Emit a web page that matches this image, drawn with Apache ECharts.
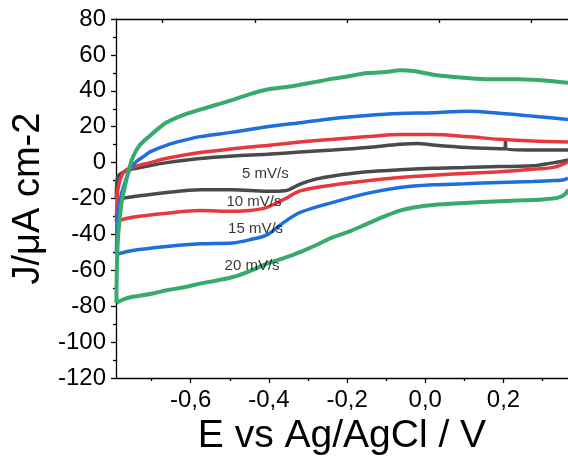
<!DOCTYPE html>
<html>
<head>
<meta charset="utf-8">
<script src="https://cdn.jsdelivr.net/npm/echarts@6.0.0/dist/echarts.min.js"></script>
<style>
  html, body { margin: 0; padding: 0; background: #fff; }
  #chart { width: 568px; height: 461px; }
</style>
</head>
<body>
<div id="chart"></div>
<script>
// potential window (V vs Ag/AgCl)
const xMin = -0.791;
const xMax = 0.365;
const xMajor = [-0.6, -0.4, -0.2, 0, 0.2];
const xMinor = [-0.7, -0.5, -0.3, -0.1, 0.1, 0.3];
const xTop = [-0.672, -0.435, -0.199, 0.036, 0.272];

// 5 mV/s
const fwd5 = [[-0.790,-20],[-0.789,-11],[-0.785,-7.4],[-0.772,-5.2],[-0.748,-3.5],[-0.704,-1.6],[-0.661,0],[-0.576,2.3],[-0.492,3.7],[-0.405,4.7],[-0.32,5.9],[-0.236,7],[-0.149,8.4],[-0.065,10.2],[-0.02,10.7],[0.02,9.8],[0.107,8.4],[0.191,7.8],[0.204,7.8],[0.205,12],[0.206,7.8],[0.275,7],[0.365,7]];
const rev5 = [[0.365,1.5],[0.33,0],[0.3,-1],[0.275,-1.8],[0.191,-2.2],[0.1,-2.7],[0.02,-3.1],[-0.065,-4],[-0.149,-5.1],[-0.236,-7.4],[-0.28,-9.2],[-0.32,-12],[-0.345,-14.7],[-0.36,-15.7],[-0.405,-16],[-0.492,-15.1],[-0.576,-15.1],[-0.661,-16.6],[-0.748,-19],[-0.790,-20.3]];
// 10 mV/s
const fwd10 = [[-0.790,-33],[-0.789,-24],[-0.786,-14.7],[-0.777,-7.4],[-0.764,-3.9],[-0.748,-2.5],[-0.73,-1.4],[-0.704,0],[-0.661,2.4],[-0.576,5.6],[-0.492,7.8],[-0.405,9.6],[-0.32,11.5],[-0.236,13],[-0.149,14.5],[-0.065,15.7],[0.02,15.7],[0.107,14.5],[0.19,13],[0.275,12],[0.365,11.5]];
const rev10 = [[0.365,0.5],[0.33,-2.5],[0.275,-3.7],[0.191,-5.1],[0.1,-6],[0.02,-7],[-0.065,-8.3],[-0.149,-10.1],[-0.236,-12.5],[-0.32,-15.7],[-0.36,-20.3],[-0.405,-24.9],[-0.449,-26.7],[-0.492,-27.1],[-0.576,-26.7],[-0.661,-28.2],[-0.748,-30.4],[-0.790,-32.5]];
// 15 mV/s
const fwd15 = [[-0.790,-51],[-0.789,-40],[-0.788,-31.4],[-0.780,-20.3],[-0.768,-11],[-0.755,-3.7],[-0.738,0.8],[-0.72,3.5],[-0.704,6],[-0.661,9.8],[-0.62,12.3],[-0.576,14.5],[-0.492,17],[-0.405,20],[-0.32,22.2],[-0.236,24.6],[-0.149,26.3],[-0.065,27.4],[0.02,27.8],[0.107,28.6],[0.19,27.5],[0.275,25.9],[0.365,24]];
const rev15 = [[0.365,-8.5],[0.355,-9.5],[0.33,-10],[0.275,-10.5],[0.191,-11],[0.1,-11.8],[0.02,-12.3],[-0.065,-13.8],[-0.149,-17.1],[-0.236,-22.1],[-0.32,-27.7],[-0.36,-33],[-0.405,-40.2],[-0.45,-43],[-0.492,-44.7],[-0.576,-45.2],[-0.661,-46.7],[-0.748,-48.9],[-0.790,-51]];
// 20 mV/s
const fwd20 = [[-0.790,-78],[-0.789,-61],[-0.786,-42],[-0.778,-24],[-0.770,-15],[-0.760,-5.5],[-0.748,3],[-0.730,9.8],[-0.704,15],[-0.680,19.5],[-0.661,22.5],[-0.620,26.5],[-0.576,29.5],[-0.53,32.5],[-0.492,35],[-0.45,38],[-0.405,40.7],[-0.36,42],[-0.32,43.4],[-0.28,45],[-0.236,46.8],[-0.2,48],[-0.149,49.9],[-0.1,50.5],[-0.065,51.4],[-0.03,51],[0.02,49],[0.06,48],[0.107,47.1],[0.15,46.5],[0.191,46.4],[0.24,46.4],[0.275,46.2],[0.32,45.5],[0.365,44.5]];
const rev20 = [[0.365,-15],[0.358,-17.5],[0.34,-19.5],[0.3,-20.5],[0.25,-21],[0.191,-21.5],[0.1,-22.5],[0.02,-23.6],[-0.03,-25],[-0.065,-26.7],[-0.1,-29.5],[-0.149,-34.1],[-0.19,-38],[-0.236,-41.5],[-0.28,-46],[-0.32,-49.8],[-0.36,-53],[-0.405,-56.3],[-0.45,-60.5],[-0.492,-63.7],[-0.53,-65.5],[-0.576,-67.4],[-0.62,-69.5],[-0.661,-71.1],[-0.7,-73],[-0.748,-74.7],[-0.77,-76],[-0.790,-78]];

const rateNames = ['5 mV/s', '10 mV/s', '15 mV/s', '20 mV/s'];
const labelPos = [[-0.409,-6.4],[-0.438,-21.8],[-0.434,-36.9],[-0.443,-57.6]];
const colors = ['#4a4a4a', '#e8383d', '#1c6fdc', '#36ab6b'];
const loops = [[fwd5, rev5], [fwd10, rev10], [fwd15, rev15], [fwd20, rev20]];

let myChart = echarts.init(document.getElementById('chart'));
const font = "'Liberation Sans', Arial, sans-serif";
const fmt = v => v.toFixed(1).replace('.', ',');

let series = loops.map((l, i) => ({
  name: rateNames[i],
  type: 'line',
  xAxisIndex: 0,
  data: l[0].concat(['-'], l[1]),
  showSymbol: false,
  smooth: 0.3,
  connectNulls: false,
  lineStyle: { color: colors[i], width: i === 3 ? 4 : 3.5 },
  z: 2 + i
}));
series.push({
  type: 'scatter',
  xAxisIndex: 0,
  symbolSize: 0,
  data: labelPos.map((p, i) => ({ value: p, name: rateNames[i] })),
  label: {
    show: true,
    position: 'inside',
    formatter: '{b}',
    fontFamily: font,
    fontSize: 15,
    color: '#000'
  },
  z: 10
});

let option = {
  backgroundColor: '#fff',
  animation: false,
  grid: { left: 116, right: 0, top: 19, bottom: 80 },
  xAxis: [
    {
      type: 'value',
      position: 'bottom',
      min: xMin,
      max: xMax,
      name: 'E vs Ag/AgCl / V',
      nameLocation: 'middle',
      nameGap: 31,
      nameTextStyle: { fontFamily: font, fontSize: 39, color: '#000' },
      axisLine: { onZero: false, lineStyle: { color: '#000', width: 1.3 } },
      axisTick: { customValues: xMajor, length: 5, lineStyle: { color: '#000', width: 1.3 } },
      axisLabel: { customValues: xMajor, formatter: fmt, fontFamily: font, fontSize: 24, color: '#000', margin: 10 },
      splitLine: { show: false }
    },
    {
      type: 'value',
      position: 'bottom',
      min: xMin,
      max: xMax,
      axisLine: { show: false, onZero: false },
      axisTick: { customValues: xMinor, length: 3, lineStyle: { color: '#000', width: 1.3 } },
      axisLabel: { show: false },
      splitLine: { show: false }
    },
    {
      type: 'value',
      position: 'top',
      min: xMin,
      max: xMax,
      axisLine: { onZero: false, lineStyle: { color: '#000', width: 1.3 } },
      axisTick: { customValues: xTop, inside: true, length: 4, lineStyle: { color: '#000', width: 1.3 } },
      axisLabel: { show: false },
      splitLine: { show: false }
    }
  ],
  yAxis: {
    type: 'value',
    min: -120,
    max: 80,
    interval: 20,
    name: 'J/μA cm-2',
    nameLocation: 'middle',
    nameGap: 54,
    nameTextStyle: { fontFamily: font, fontSize: 38, color: '#000' },
    axisLine: { show: true, onZero: false, lineStyle: { color: '#000', width: 1.3 } },
    axisTick: { length: 5, lineStyle: { color: '#000', width: 1.3 } },
    minorTick: { show: true, splitNumber: 2, length: 3, lineStyle: { color: '#000', width: 1.3 } },
    axisLabel: { fontFamily: font, fontSize: 24, color: '#000', margin: 10 },
    splitLine: { show: false }
  },
  series: series
};

myChart.setOption(option);
</script>
</body>
</html>
